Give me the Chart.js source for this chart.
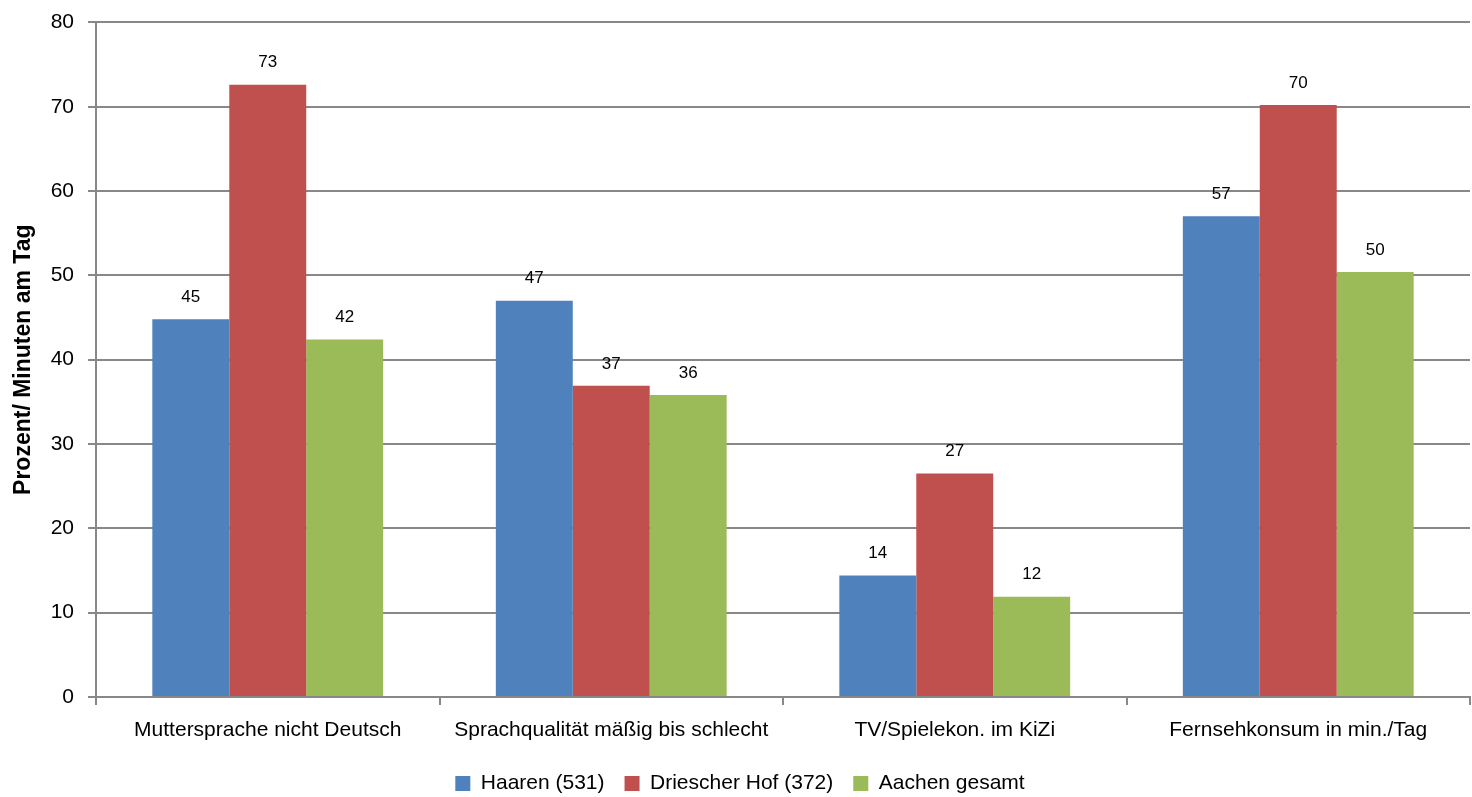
<!DOCTYPE html>
<html>
<head>
<meta charset="utf-8">
<script src="https://cdn.jsdelivr.net/npm/chart.js@4"></script>
<style>
	html, body { margin: 0; padding: 0; background: #fff; }
	#wrap { width: 1472px; height: 797px; }
</style>
</head>
<body>
<div id="wrap"><canvas id="chart"></canvas></div>
<script>
const categories = ['Muttersprache nicht Deutsch', 'Sprachqualität mäßig bis schlecht', 'TV/Spielekon. im KiZi', 'Fernsehkonsum in min./Tag'];
const seriesNames = ['Haaren (531)', 'Driescher Hof (372)', 'Aachen gesamt'];
const haaren = [44.8, 47.0, 14.4, 57.0];
const driescherHof = [72.6, 36.9, 26.5, 70.2];
const aachenGesamt = [42.4, 35.8, 11.9, 50.4];
const colors = ['#4f81bd', '#c0504d', '#9bbb59'];
const yTicks = [0, 10, 20, 30, 40, 50, 60, 70, 80];

const fontFamily = '"Liberation Sans Narrow", "Liberation Sans", Arial, sans-serif';

//Draw rounded values above each bar
const valueLabels = {
	id: 'valueLabels',
	afterDatasetsDraw(chart) {
		const ctx = chart.ctx;
		ctx.save();
		ctx.font = '17px ' + fontFamily;
		ctx.fillStyle = '#000';
		ctx.textAlign = 'center';
		ctx.textBaseline = 'middle';
		chart.data.datasets.forEach(function(ds, i) {
			chart.getDatasetMeta(i).data.forEach(function(bar, j) {
				ctx.fillText(Math.round(ds.data[j]), bar.x, bar.y - 22);
			});
		});
		ctx.restore();
	}
};

new Chart(document.getElementById('chart'), {
	type: 'bar',
	data: {
		labels: categories,
		datasets: [haaren, driescherHof, aachenGesamt].map(function(data, i) {
			return {
				label: seriesNames[i],
				data: data,
				backgroundColor: colors[i],
				borderWidth: 0,
				categoryPercentage: 0.672,
				barPercentage: 1
			};
		})
	},
	options: {
		responsive: true,
		maintainAspectRatio: false,
		animation: false,
		layout: { padding: { left: 10, right: 2, top: 0, bottom: -7 } },
		plugins: {
			legend: {
				position: 'bottom',
				labels: {
					font: { size: 21, family: fontFamily },
					color: '#000',
					boxWidth: 15,
					boxHeight: 15,
					padding: 20,
					useBorderRadius: false
				}
			},
			tooltip: { enabled: false }
		},
		scales: {
			x: {
				afterFit: function(axis) { axis.height = 56; },
				grid: {
					offset: true,
					drawOnChartArea: false,
					drawTicks: true,
					tickLength: 8,
					color: '#888',
					lineWidth: 2
				},
				border: { color: '#888', width: 2 },
				ticks: {
					font: { size: 21, family: fontFamily },
					color: '#000',
					padding: 13,
					maxRotation: 0
				}
			},
			y: {
				min: 0,
				max: 80,
				afterBuildTicks: function(axis) {
					axis.ticks = yTicks.map(function(v) { return { value: v }; });
				},
				afterFit: function(axis) { axis.width = 86; },
				grid: {
					color: '#888',
					lineWidth: 2,
					tickLength: 8
				},
				border: { color: '#888', width: 2 },
				ticks: {
					font: { size: 21, family: fontFamily, lineHeight: 0.8 },
					color: '#000',
					padding: 14
				},
				title: {
					display: true,
					text: 'Prozent/ Minuten am Tag',
					font: { size: 23, weight: 'bold', family: fontFamily },
					color: '#000',
					padding: { top: 0, bottom: 4 }
				}
			}
		}
	},
	plugins: [valueLabels]
});
</script>
</body>
</html>
